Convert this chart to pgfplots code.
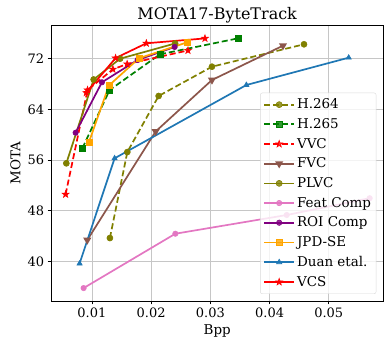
\documentclass[border=0pt]{standalone}
\usepackage{fontspec}
\setmainfont{DejaVu Serif}
\usepackage{pgfplots}
\pgfplotsset{compat=1.18}

\definecolor{mplolive}{RGB}{128,128,0}
\definecolor{mplgreen}{RGB}{0,128,0}
\definecolor{mplred}{RGB}{255,0,0}
\definecolor{tabbrown}{RGB}{140,86,75}
\definecolor{tabpink}{RGB}{227,119,194}
\definecolor{mplpurple}{RGB}{128,0,128}
\definecolor{mplorange}{RGB}{255,165,0}
\definecolor{tabblue}{RGB}{31,119,180}

% filled five-pointed star, like matplotlib's '*'
\pgfdeclareplotmark{fstar}{%
  \pgfpathmoveto{\pgfpointpolar{90}{1.2\pgfplotmarksize}}%
  \pgfpathlineto{\pgfpointpolar{126}{0.48\pgfplotmarksize}}%
  \pgfpathlineto{\pgfpointpolar{162}{1.2\pgfplotmarksize}}%
  \pgfpathlineto{\pgfpointpolar{198}{0.48\pgfplotmarksize}}%
  \pgfpathlineto{\pgfpointpolar{234}{1.2\pgfplotmarksize}}%
  \pgfpathlineto{\pgfpointpolar{270}{0.48\pgfplotmarksize}}%
  \pgfpathlineto{\pgfpointpolar{306}{1.2\pgfplotmarksize}}%
  \pgfpathlineto{\pgfpointpolar{342}{0.48\pgfplotmarksize}}%
  \pgfpathlineto{\pgfpointpolar{18}{1.2\pgfplotmarksize}}%
  \pgfpathlineto{\pgfpointpolar{54}{0.48\pgfplotmarksize}}%
  \pgfpathclose
  \pgfusepathqfillstroke}

\pgfplotsset{
  ln/.style={line width=1.7bp, mark options={line width=0.6bp}},
  dsh/.style={ln, dash pattern=on 6bp off 3bp, mark options={solid, line width=0.6bp}},
}

\begin{document}
\begin{tikzpicture}
\begin{axis}[
    scale only axis,
    width=332bp, height=275bp,
    xmin=0.0031, xmax=0.0592,
    ymin=33.8, ymax=77.2,
    xtick={0.01,0.02,0.03,0.04,0.05},
    xticklabels={0.01,0.02,0.03,0.04,0.05},
    ytick={40,48,56,64,72},
    yticklabels={40,48,56,64,72},
    scaled x ticks=false,
    tick align=outside, tick pos=left,
    major tick length=3.5bp,
    tick style={black, line width=0.8bp},
    axis line style={black, line width=0.8bp},
    grid=major, grid style={gray!45, line width=0.8bp},
    ticklabel style={font=\fontsize{13}{15}\selectfont},
    title={MOTA17-ByteTrack},
    title style={font=\fontsize{16}{18}\selectfont, yshift=-7bp},
    xlabel={Bpp}, ylabel={MOTA},
    label style={font=\fontsize{13.5}{16}\selectfont},
    mark size=3bp,
    legend cell align=left,
    legend image code/.code={\draw[mark repeat=2,mark phase=2,#1]
        plot coordinates {(0bp,0bp) (15bp,0bp) (30bp,0bp)};},
    legend style={at={(1,0)}, anchor=south east, xshift=-7bp, yshift=7bp,
        draw=gray!30, rounded corners=2pt, fill=white, fill opacity=0.8,
        text opacity=1, draw opacity=1,
        font=\fontsize{13.5}{16}\selectfont, row sep=4.2bp,
        inner ysep=4bp},
]
\addplot[mplolive, dsh, mark=*]
  coordinates {(0.01304,43.72)(0.01598,57.28)(0.02127,66.12)(0.03027,70.74)(0.04581,74.27)};
\addplot[mplgreen, dsh, mark=square*]
  coordinates {(0.00839,57.87)(0.01299,67.06)(0.02149,72.69)(0.03473,75.22)};
\addplot[mplred, dsh, mark=fstar]
  coordinates {(0.00556,50.61)(0.00927,67.06)(0.01355,70.33)(0.01595,71.16)(0.02622,73.3)};
\addplot[tabbrown, ln, mark=triangle*, mark options={rotate=180}]
  coordinates {(0.00922,43.4)(0.02076,60.52)(0.03027,68.64)(0.04226,74.05)};
\addplot[mplolive, ln, mark=*]
  coordinates {(0.00568,55.5)(0.01029,68.72)(0.01476,72.0)(0.02405,74.4)};
\addplot[tabpink, ln, mark=*, mark size=2.7bp]
  coordinates {(0.0086,35.83)(0.02409,44.4)(0.04289,47.35)(0.0569,50.0)};
\addplot[mplpurple, ln, mark=*, mark size=2.7bp]
  coordinates {(0.00725,60.33)(0.01169,68.28)(0.01772,71.8)(0.02397,73.85)};
\addplot[mplorange, ln, mark=square*]
  coordinates {(0.00949,58.81)(0.01287,67.77)(0.01794,72.06)(0.02611,74.59)};
\addplot[tabblue, ln, mark=triangle*]
  coordinates {(0.00792,39.7)(0.01383,56.29)(0.03608,67.85)(0.05336,72.16)};
\addplot[mplred, ln, mark=fstar]
  coordinates {(0.00905,66.64)(0.0140,72.1)(0.01919,74.43)(0.02909,75.2)};
\legend{H.264, H.265, VVC, FVC, PLVC, Feat Comp, ROI Comp, JPD-SE, Duan etal., VCS}
\end{axis}
\pgfresetboundingbox
\path ([shift={(-51bp,-45bp)}]current axis.south west)
  rectangle ([shift={(7.7bp,25.7bp)}]current axis.north east);
\end{tikzpicture}
\end{document}
